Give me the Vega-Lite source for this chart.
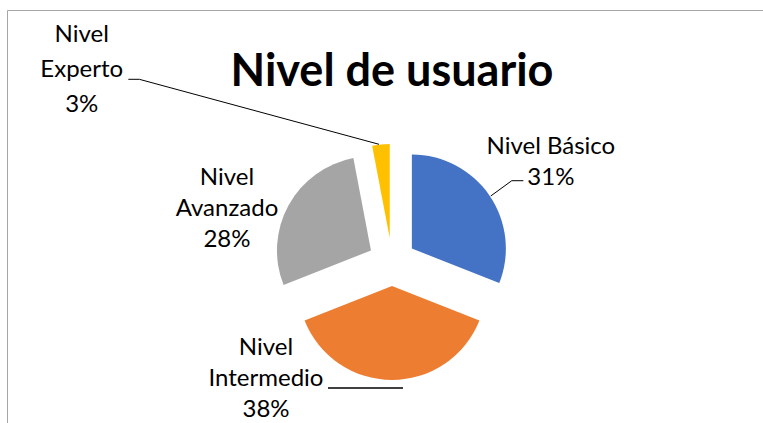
{
  "$schema": "https://vega.github.io/schema/vega-lite/v6.json",
  "width": 770,
  "height": 420,
  "autosize": {"type": "none"},
  "padding": {"left": 7, "top": 10, "right": 0, "bottom": 0},
  "background": "white",
  "config": {"view": {"stroke": "#a6a6a6", "strokeWidth": 1}, "font": "Lato"},
  "title": {"text": "Nivel de usuario", "font": "Lato", "fontSize": 45, "fontWeight": "bold", "color": "#000000", "anchor": "middle", "frame": "group", "baseline": "alphabetic", "offset": -121},
  "data": {"values": [
    {"nivel": "Nivel Básico", "pct": 31, "orden": 1},
    {"nivel": "Nivel Intermedio", "pct": 38, "orden": 2},
    {"nivel": "Nivel Avanzado", "pct": 28, "orden": 3},
    {"nivel": "Nivel Experto", "pct": 3, "orden": 4}
  ]},
  "transform": [
    {"joinaggregate": [{"op": "sum", "field": "pct", "as": "total"}]},
    {"window": [{"op": "sum", "field": "pct", "as": "cum"}], "sort": [{"field": "orden", "order": "ascending"}], "frame": [null, 0]},
    {"calculate": "datum.cum / datum.total", "as": "t1"},
    {"calculate": "(datum.cum - datum.pct) / datum.total", "as": "t0"},
    {"calculate": "(datum.t0 + datum.t1) / 2", "as": "mid"},
    {"calculate": "sin(2 * PI * datum.mid)", "as": "ux"},
    {"calculate": "cos(2 * PI * datum.mid)", "as": "uy"},
    {"calculate": "datum.nivel + '\\n' + datum.pct + '%'", "as": "lbl2"},
    {"calculate": "replace(datum.nivel, ' ', '\\n') + '\\n' + datum.pct + '%'", "as": "lbl3"}
  ],
  "encoding": {
    "x": {"field": "ux", "type": "quantitative", "scale": {"domain": [-1, 1], "range": [361, 409], "nice": false, "zero": false}, "axis": null},
    "y": {"field": "uy", "type": "quantitative", "scale": {"domain": [-1, 1], "range": [276, 228], "nice": false, "zero": false}, "axis": null}
  },
  "layer": [
    {
      "mark": {"type": "arc", "outerRadius": 94},
      "encoding": {
        "theta": {"field": "t0", "type": "quantitative", "stack": null, "scale": {"domain": [0, 1], "range": [0, 6.283185307179586]}},
        "theta2": {"field": "t1"},
        "color": {"field": "nivel", "type": "nominal", "legend": null, "scale": {"domain": ["Nivel Básico", "Nivel Intermedio", "Nivel Avanzado", "Nivel Experto"], "range": ["#4472C4", "#ED7D31", "#A5A5A5", "#FFC000"]}}
      }
    },
    {
      "transform": [{"filter": "datum.orden == 1"}],
      "mark": {"type": "rule", "color": "black", "strokeWidth": 1, "xOffset": 78.9, "x2Offset": 99.9, "yOffset": -52.5, "y2Offset": -67.8},
      "encoding": {"x2": {"field": "ux"}, "y2": {"field": "uy"}}
    },
    {
      "transform": [{"filter": "datum.orden == 1"}],
      "mark": {"type": "rule", "color": "black", "strokeWidth": 1, "xOffset": 99.9, "x2Offset": 111.5, "yOffset": -67.8, "y2Offset": -67.8},
      "encoding": {"x2": {"field": "ux"}, "y2": {"field": "uy"}}
    },
    {
      "transform": [{"filter": "datum.orden == 2"}],
      "mark": {"type": "rule", "color": "black", "strokeWidth": 1.3, "xOffset": -64, "x2Offset": 11, "yOffset": 102, "y2Offset": 102},
      "encoding": {"x2": {"field": "ux"}, "y2": {"field": "uy"}}
    },
    {
      "transform": [{"filter": "datum.orden == 4"}],
      "mark": {"type": "rule", "color": "black", "strokeWidth": 1, "xOffset": -261.4, "x2Offset": -250.4, "yOffset": -158.8, "y2Offset": -158.8},
      "encoding": {"x2": {"field": "ux"}, "y2": {"field": "uy"}}
    },
    {
      "transform": [{"filter": "datum.orden == 4"}],
      "mark": {"type": "rule", "color": "black", "strokeWidth": 1, "xOffset": -250.4, "x2Offset": -10.7, "yOffset": -158.8, "y2Offset": -93.8},
      "encoding": {"x2": {"field": "ux"}, "y2": {"field": "uy"}}
    },
    {
      "transform": [{"filter": "datum.orden == 1"}],
      "mark": {"type": "text", "align": "center", "baseline": "alphabetic", "dx": 139, "dy": -95, "fontSize": 24, "lineHeight": 31, "lineBreak": "\n", "font": "Lato", "color": "black"},
      "encoding": {"text": {"field": "lbl2"}}
    },
    {
      "transform": [{"filter": "datum.orden == 2"}],
      "mark": {"type": "text", "align": "center", "baseline": "alphabetic", "dx": -126, "dy": 69, "fontSize": 24, "lineHeight": 31, "lineBreak": "\n", "font": "Lato", "color": "black"},
      "encoding": {"text": {"field": "lbl3"}}
    },
    {
      "transform": [{"filter": "datum.orden == 3"}],
      "mark": {"type": "text", "align": "center", "baseline": "alphabetic", "dx": -144, "dy": -65, "fontSize": 24, "lineHeight": 31, "lineBreak": "\n", "font": "Lato", "color": "black"},
      "encoding": {"text": {"field": "lbl3"}}
    },
    {
      "transform": [{"filter": "datum.orden == 4"}],
      "mark": {"type": "text", "align": "center", "baseline": "alphabetic", "dx": -308, "dy": -196, "fontSize": 24, "lineHeight": 35, "lineBreak": "\n", "font": "Lato", "color": "black"},
      "encoding": {"text": {"field": "lbl3"}}
    }
  ]
}
